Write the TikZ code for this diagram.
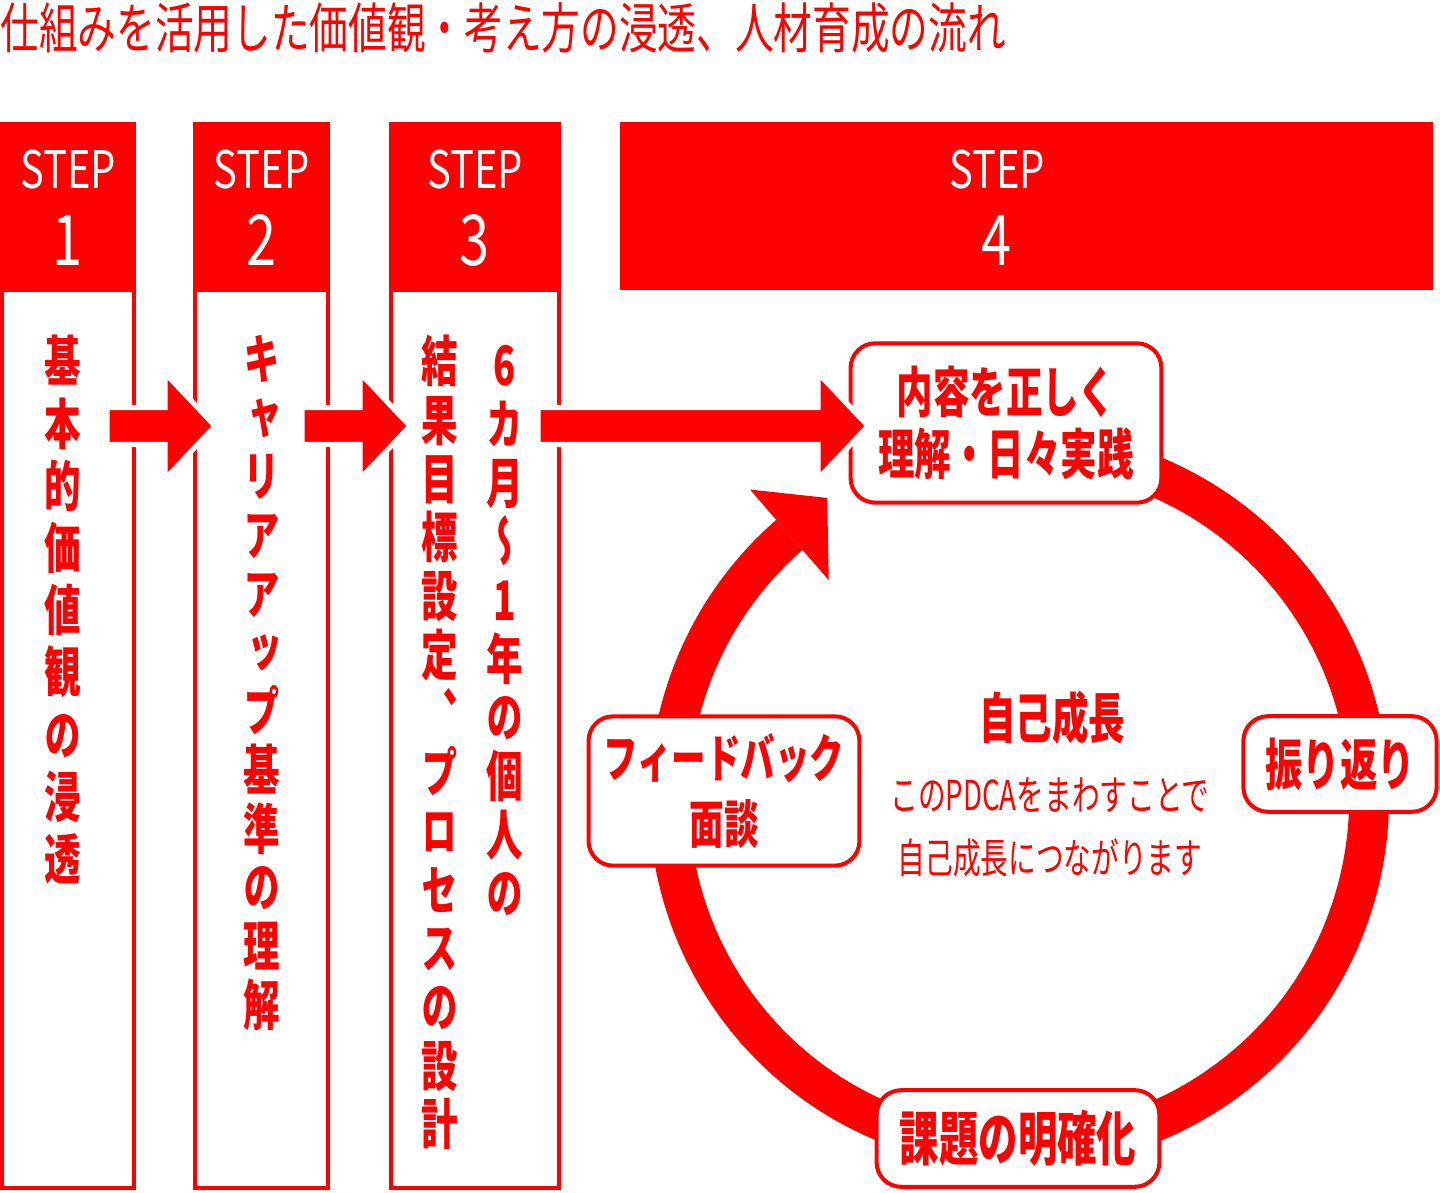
\documentclass[tikz,border=0pt]{standalone}
\usepackage{fontspec}
\usetikzlibrary{calc}
\newfontfamily\jpfont[FakeStretch=0.67]{Noto Sans CJK JP}
\newfontfamily\jptitle[FakeStretch=0.71]{Noto Sans CJK JP}
\newfontfamily\stepfont[FakeStretch=0.77]{Noto Sans CJK JP}
\newfontfamily\jptate[FakeStretch=0.67,Vertical=Alternates]{Noto Sans CJK JP}
\definecolor{stepred}{RGB}{255,0,0}

% block arrow from #1 to tip #2
\newcommand{\bigarrow}[2]{%
  \fill[stepred, draw=white, line width=3pt]
    ($(#1)+(0,18.5)$) -- ($(#2)+(-50,18.5)$) -- ($(#2)+(-50,53)$) -- (#2)
    -- ($(#2)+(-50,-53)$) -- ($(#2)+(-50,-18.5)$) -- ($(#1)+(0,-18.5)$) -- cycle;}

\begin{document}
\begin{tikzpicture}[x=0.02cm, y=0.02cm,
  stephead/.style={fill=stepred},
  stepbody/.style={draw=stepred, line width=2.3pt},
  steplbl/.style={text=white, inner sep=0pt, anchor=base, font=\stepfont\fontsize{29.5}{30}\selectfont},
  stepnum/.style={text=white, inner sep=0pt, anchor=base, font=\stepfont\fontsize{40}{40}\selectfont},
  tate/.style={text=stepred, inner sep=0pt, anchor=north, align=center},
  cyclebox/.style={draw=stepred, line width=2.3pt, fill=white, rounded corners=14pt,
    text=stepred, align=center, inner sep=0pt}]
\useasboundingbox (0,0) rectangle (1440,1193);

%% title
\node[anchor=west, inner sep=0pt, text=stepred, font=\jptitle\fontsize{31}{32}\selectfont]
  (title) at (0,1165) {仕組みを活用した価値観・考え方の浸透、人材育成の流れ};

%% columns
\draw[stepbody] (2,5) rectangle (134,903);
\draw[stepbody] (195,5) rectangle (328,903);
\draw[stepbody] (391,5) rectangle (559,903);
\fill[stephead] (0,903) rectangle (136,1071);
\fill[stephead] (193,903) rectangle (330,1071);
\fill[stephead] (389,903) rectangle (561,1071);
\fill[stephead] (620,903) rectangle (1433,1071);

\node[steplbl] (s1) at (68,1004) {STEP};    \node[stepnum] (n1) at (68,927) {1};
\node[steplbl] (s2) at (261.5,1004) {STEP}; \node[stepnum] (n2) at (261.5,927) {2};
\node[steplbl] (s3) at (475,1004) {STEP};   \node[stepnum] (n3) at (475,927) {3};
\node[steplbl] (s4) at (997,1004) {STEP};   \node[stepnum] (n4) at (997,927) {4};

\node[tate, font=\jptate\bfseries\fontsize{31}{35.4}\selectfont] (t1) at (63,858)
  {基\\本\\的\\価\\値\\観\\の\\浸\\透};
\node[tate, font=\jptate\bfseries\fontsize{31}{33.4}\selectfont] (t2) at (262,858)
  {キ\\ャ\\リ\\ア\\ア\\ッ\\プ\\基\\準\\の\\理\\解};
\node[tate, font=\jptate\bfseries\fontsize{31}{33.4}\selectfont] (t3a) at (505,848)
  {6\\カ\\月\\～\\1\\年\\の\\個\\人\\の};
\node[tate, font=\jptate\bfseries\fontsize{31}{33.4}\selectfont] (t3b) at (440,858)
  {結\\果\\目\\標\\設\\定\\、\\プ\\ロ\\セ\\ス\\の\\設\\計};

%% cycle
\coordinate (rc) at (1019,394);
\draw[stepred, line width=22.7pt] ($(rc)+(75:350)$) arc[start angle=75, end angle=-229, radius=350];
\fill[stepred] ($(rc)+(131:290)$) -- ($(rc)+(122.5:357)$) -- ($(rc)+(131:410)$) -- cycle;

\node[cyclebox, minimum width=176.9pt, minimum height=90.7pt,
  font=\jpfont\bfseries\fontsize{31}{35.7}\selectfont] (jissen) at (1006,770) {内容を正しく\\理解・日々実践};
\node[cyclebox, minimum width=110pt, minimum height=54.4pt,
  font=\jpfont\bfseries\fontsize{31.7}{32}\selectfont] (furi) at (1340,429) {振り返り};
\node[cyclebox, minimum width=161pt, minimum height=55pt,
  font=\jpfont\bfseries\fontsize{33.5}{34}\selectfont] (kadai) at (1018,54.5) {課題の明確化};
\node[cyclebox, minimum width=154.2pt, minimum height=85pt,
  font=\jpfont\bfseries\fontsize{29.3}{37.4}\selectfont] (fb) at (724,402) {フィードバック\\面談};

\node[text=stepred, font=\jpfont\bfseries\fontsize{31}{32}\selectfont] (seicho) at (1052,475) {自己成長};
\node[text=stepred, align=center, font=\jpfont\fontsize{23.5}{35.7}\selectfont] (pdca) at (1050,366)
  {このPDCAをまわすことで\\自己成長につながります};

%% arrows
\coordinate (a1s) at (107,767); \coordinate (a1t) at (215,767);
\coordinate (a2s) at (302,767); \coordinate (a2t) at (410,767);
\coordinate (a3s) at (538,767); \coordinate (a3t) at (868,767);
\bigarrow{a1s}{a1t}
\bigarrow{a2s}{a2t}
\bigarrow{a3s}{a3t}
\end{tikzpicture}
\end{document}
